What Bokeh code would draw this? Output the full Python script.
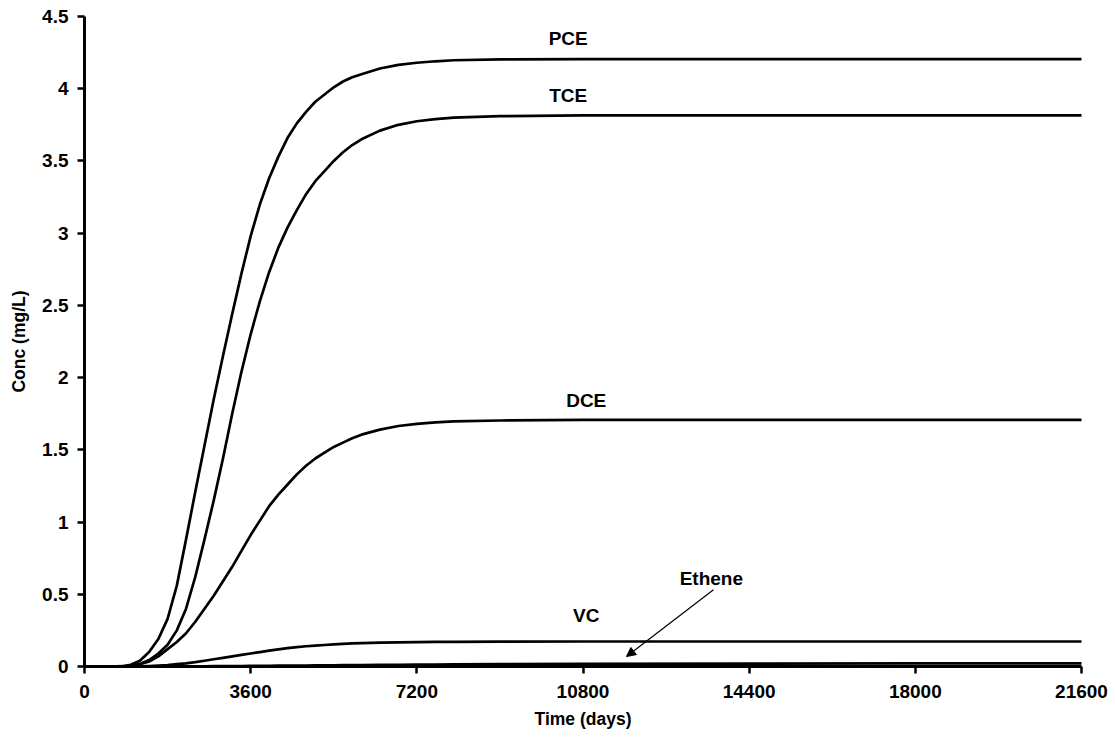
from bokeh.plotting import figure
from bokeh.models import ColumnDataSource, Range1d, FixedTicker, Arrow, NormalHead
from bokeh.core.properties import value
from bokeh.embed import file_html
from bokeh.resources import INLINE

# ---- data ----
time_days = [0, 600, 800, 1000, 1200, 1400, 1600, 1800, 2000, 2200,
             2400, 2600, 2800, 3000, 3200, 3400, 3600, 3800, 4000, 4200,
             4400, 4600, 4800, 5000, 5200, 5400, 5600, 5800, 6000, 6400,
             6800, 7200, 7600, 8000, 9000, 10800, 14400, 18000, 21600]
pce = [0, 0, 0.002, 0.012, 0.04, 0.10, 0.19, 0.33, 0.56, 0.88,
       1.21, 1.53, 1.85, 2.15, 2.44, 2.72, 2.98, 3.20, 3.38, 3.53,
       3.66, 3.76, 3.84, 3.91, 3.96, 4.01, 4.05, 4.08, 4.10, 4.14,
       4.165, 4.18, 4.19, 4.197, 4.203, 4.205, 4.205, 4.205, 4.205]
tce = [0, 0, 0, 0.005, 0.018, 0.045, 0.09, 0.15, 0.25, 0.40,
       0.62, 0.88, 1.15, 1.44, 1.75, 2.04, 2.30, 2.53, 2.73, 2.90,
       3.04, 3.16, 3.27, 3.36, 3.43, 3.50, 3.56, 3.61, 3.65, 3.71,
       3.75, 3.775, 3.79, 3.80, 3.81, 3.815, 3.815, 3.815, 3.815]
dce = [0, 0, 0, 0.003, 0.015, 0.035, 0.07, 0.12, 0.17, 0.23,
       0.31, 0.40, 0.49, 0.59, 0.69, 0.80, 0.91, 1.01, 1.11, 1.19,
       1.26, 1.33, 1.39, 1.44, 1.48, 1.52, 1.55, 1.58, 1.605, 1.64,
       1.665, 1.68, 1.69, 1.697, 1.703, 1.707, 1.707, 1.707, 1.707]
vc = [0, 0, 0, 0, 0.001, 0.003, 0.006, 0.01, 0.016, 0.022,
      0.03, 0.04, 0.05, 0.06, 0.07, 0.08, 0.09, 0.10, 0.11, 0.119,
      0.127, 0.134, 0.14, 0.145, 0.149, 0.153, 0.157, 0.16, 0.162, 0.165,
      0.167, 0.169, 0.17, 0.171, 0.172, 0.173, 0.173, 0.173, 0.173]
ethene = [0, 0, 0, 0, 0, 0, 0, 0, 0, 0.0005,
          0.001, 0.0015, 0.002, 0.0025, 0.003, 0.0035, 0.004, 0.0045, 0.005, 0.0055,
          0.006, 0.0065, 0.007, 0.0075, 0.008, 0.0085, 0.009, 0.0095, 0.01, 0.011,
          0.012, 0.013, 0.014, 0.015, 0.016, 0.018, 0.020, 0.021, 0.021]

x_ticks = [0, 3600, 7200, 10800, 14400, 18000, 21600]
y_ticks = [0, 0.5, 1, 1.5, 2, 2.5, 3, 3.5, 4, 4.5]
y_tick_labels = ["0", "0.5", "1", "1.5", "2", "2.5", "3", "3.5", "4", "4.5"]

label_names = ["PCE", "TCE", "DCE", "VC", "Ethene"]
label_time = [10480, 10480, 10870, 10870, 13580]
label_conc = [4.35, 3.95, 1.84, 0.35, 0.61]

arrow_start = (13627, 0.532)
arrow_end = (11742, 0.069)

FONT = "Liberation Sans"

p = figure(width=1115, height=745, output_backend="svg", toolbar_location=None,
           x_range=Range1d(0, 21600), y_range=Range1d(0, 4.5),
           min_border_left=84, min_border_right=34, min_border_top=16,
           min_border_bottom=79)
p.outline_line_color = None
p.xgrid.visible = False
p.ygrid.visible = False
p.background_fill_color = "white"
p.border_fill_color = "white"

for series in (pce, tce, dce, vc, ethene):
    p.line(time_days, series, line_color="black", line_width=2.7,
           line_join="round", line_cap="round")

src = ColumnDataSource(dict(x=label_time, y=label_conc, t=label_names))
p.text("x", "y", text="t", source=src, text_font=value(FONT),
       text_font_style="bold", text_font_size="19px", text_align="center",
       text_baseline="middle", text_color="black")

p.add_layout(Arrow(end=NormalHead(size=9, fill_color="black", line_color="black", line_width=1),
                   x_start=arrow_start[0], y_start=arrow_start[1],
                   x_end=arrow_end[0], y_end=arrow_end[1],
                   line_color="black", line_width=1.2))

p.xaxis.ticker = FixedTicker(ticks=x_ticks)
p.yaxis.ticker = FixedTicker(ticks=y_ticks)
p.yaxis.major_label_overrides = {t: s for t, s in zip(y_ticks, y_tick_labels)}
p.xaxis.major_label_overrides = {t: str(t) for t in x_ticks}

for ax in (p.xaxis[0], p.yaxis[0]):
    ax.axis_line_width = 3
    ax.axis_line_color = "black"
    ax.major_tick_line_width = 2.5
    ax.major_tick_line_color = "black"
    ax.major_tick_out = 7
    ax.major_tick_in = 0
    ax.minor_tick_line_color = None
    ax.major_label_text_font = FONT
    ax.major_label_text_font_style = "bold"
    ax.major_label_text_font_size = "19px"
    ax.major_label_text_color = "black"
    ax.axis_label_text_font = FONT
    ax.axis_label_text_font_style = "bold"
    ax.axis_label_text_font_size = "17.5px"
    ax.axis_label_text_color = "black"

p.xaxis.axis_label = "Time (days)"
p.yaxis.axis_label = "Conc (mg/L)"
p.xaxis.major_label_standoff = 11
p.yaxis.major_label_standoff = 9
p.xaxis.axis_label_standoff = 8
p.yaxis.axis_label_standoff = 10

open("out.html", "w").write(file_html(p, INLINE))
